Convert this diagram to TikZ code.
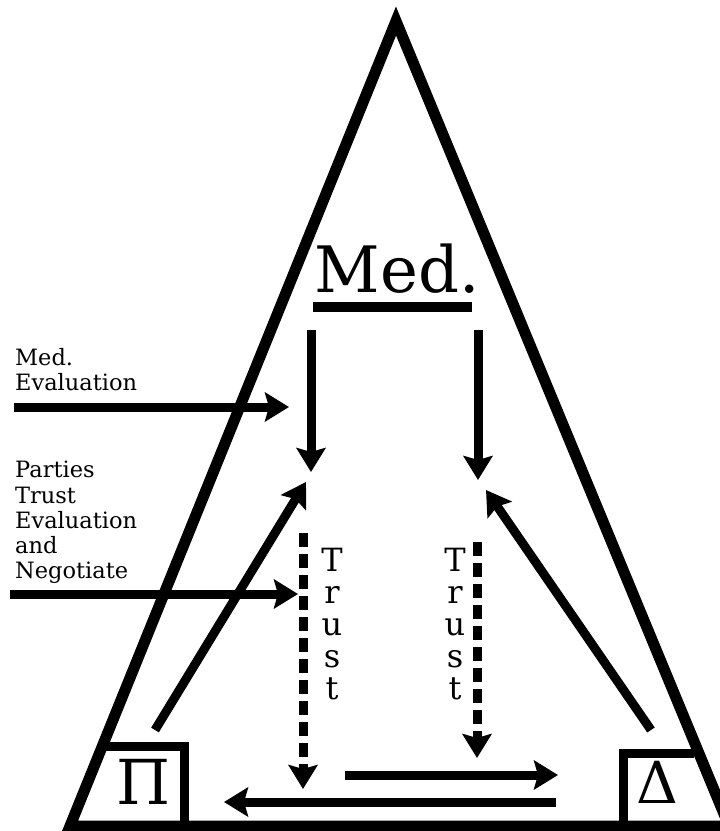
\documentclass[tikz,border=0pt]{standalone}
\usepackage{fontspec}
\setmainfont{DejaVu Serif}
\usetikzlibrary{arrows.meta}
\begin{document}
\begin{tikzpicture}[x=1pt,y=-1pt,
  thickline/.style={line width=11pt,line join=miter},
  boxline/.style={line width=9pt,line join=miter},
  arr/.style={line width=9pt,-{Stealth[width=29pt,length=24pt,inset=4pt]}},
  darr/.style={arr,dash pattern=on 14pt off 7pt},
  lbl/.style={inner sep=0pt,align=left,font=\fontsize{22.5}{25.3}\selectfont},
  trust/.style={inner sep=0pt,align=center,font=\fontsize{32}{32}\selectfont}]
\useasboundingbox (0,0) rectangle (720,831);
% triangle
\coordinate (apex) at (396,21);
\coordinate (bl) at (70,826);
\coordinate (br) at (729,826);
\draw[thickline] (apex) -- (bl) -- (br) -- cycle;
% boxes
\coordinate (pitop) at (102,746);
\coordinate (pitr) at (184,746);
\coordinate (pibr) at (184,826);
\draw[boxline] (pitop) -- (pitr) -- (pibr);
\coordinate (dtl) at (623,826);
\coordinate (dtop) at (623,753);
\coordinate (dtr) at (694,753);
\draw[boxline] (dtl) -- (dtop) -- (dtr);
\node[inner sep=0pt,font=\fontsize{62}{62}\selectfont] (pi) at (144,782) {Π};
\node[inner sep=0pt,font=\fontsize{58}{58}\selectfont] (delta) at (657,782) {Δ};
% Med.
\node[inner sep=0pt,anchor=base,font=\fontsize{64}{64}\selectfont] (med) at (397,292) {Med.};
\coordinate (ul1) at (313,307);
\coordinate (ul2) at (472,307);
\draw[line width=10pt] (ul1) -- (ul2);
% down arrows
\coordinate (a1s) at (311,330);
\coordinate (a1e) at (311,472);
\coordinate (a2s) at (478,330);
\coordinate (a2e) at (478,480);
\draw[arr] (a1s) -- (a1e);
\draw[arr] (a2s) -- (a2e);
% left arrows
\coordinate (m1s) at (14,407);
\coordinate (m1e) at (289,407);
\draw[arr] (m1s) -- (m1e);
\coordinate (n1s) at (10,594);
\coordinate (n1e) at (298,594);
\draw[arr] (n1s) -- (n1e);
% diagonals
\coordinate (d1s) at (155,730);
\coordinate (d1e) at (306,482);
\draw[arr] (d1s) -- (d1e);
\coordinate (d2s) at (651,730);
\coordinate (d2e) at (486,490);
\draw[arr] (d2s) -- (d2e);
% dashed
\coordinate (t1s) at (303,533);
\coordinate (t1e) at (303,789);
\draw[darr] (t1s) -- (t1e);
\coordinate (t2s) at (477,542);
\coordinate (t2e) at (477,758);
\draw[darr] (t2s) -- (t2e);
% bottom arrows
\coordinate (h1s) at (345,775);
\coordinate (h1e) at (558,775);
\draw[arr] (h1s) -- (h1e);
\coordinate (h2s) at (556,802);
\coordinate (h2e) at (224,802);
\draw[arr] (h2s) -- (h2e);
% labels
\node[lbl,anchor=north west] (medeval) at (15,348) {Med.\\Evaluation};
\node[lbl,anchor=north west] (parties) at (15,461) {Parties\\Trust\\Evaluation\\and\\Negotiate};
\node[trust,anchor=north] (trust1) at (332,548) {T\\r\\u\\s\\t};
\node[trust,anchor=north] (trust2) at (455,548) {T\\r\\u\\s\\t};
\end{tikzpicture}
\end{document}
